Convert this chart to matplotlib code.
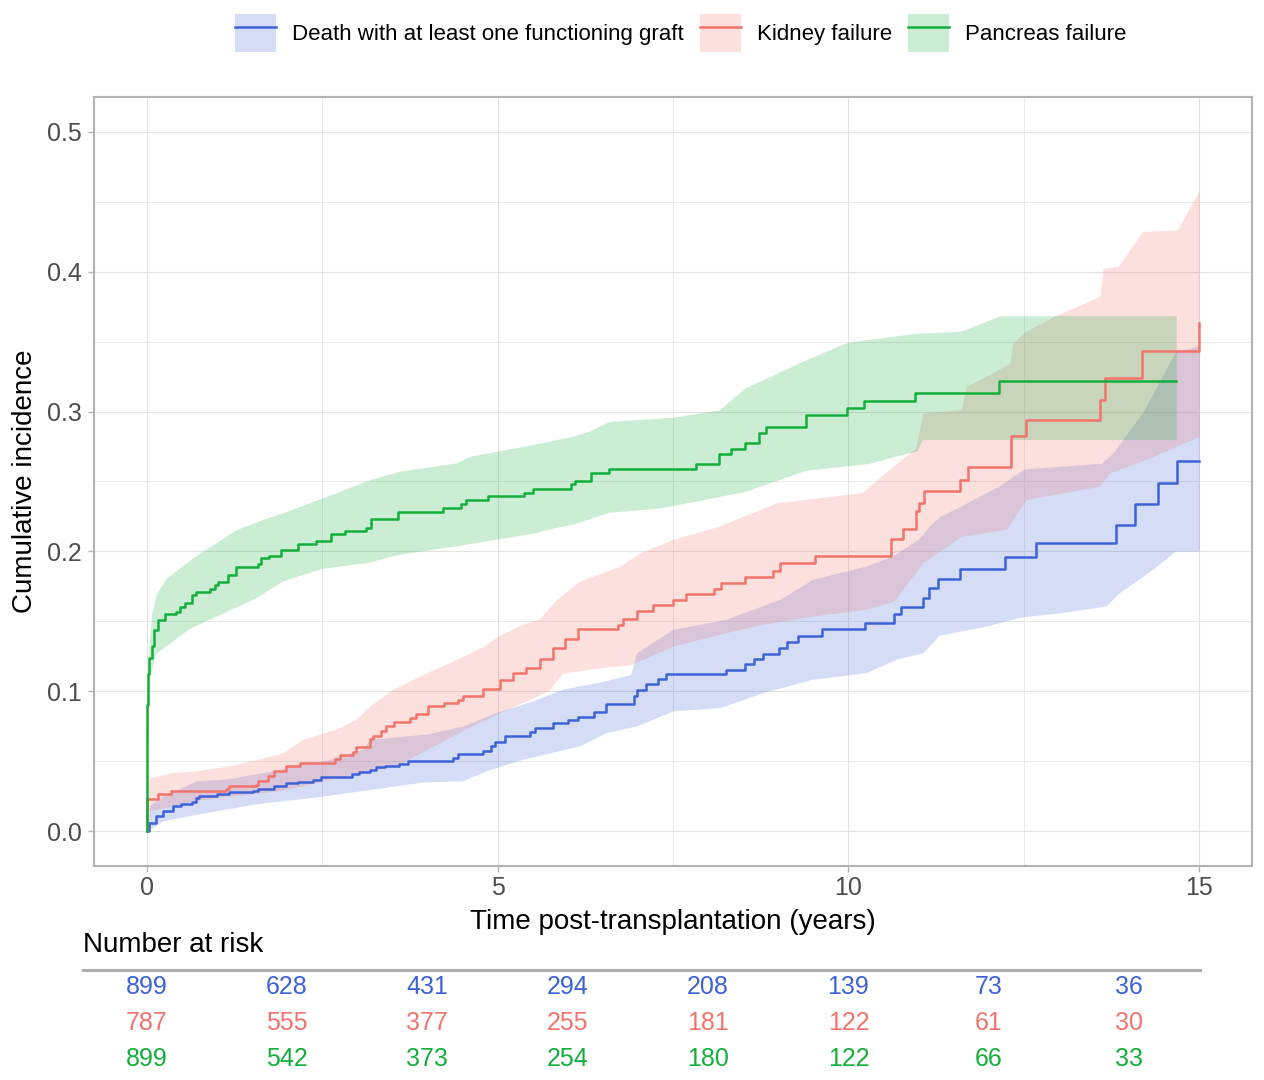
import numpy as np
import matplotlib
matplotlib.use("Agg")
import matplotlib.pyplot as plt
from matplotlib.patches import Patch
from matplotlib.lines import Line2D
from matplotlib.ticker import MultipleLocator

plt.rcParams['font.family'] = ['Liberation Sans', 'DejaVu Sans']

# ---- data ----
series_names = ["Death with at least one functioning graft", "Kidney failure", "Pancreas failure"]

# death with a functioning graft
death_t = [0, 0.04, 0.14, 0.23, 0.38, 0.49, 0.64, 0.71, 0.75, 1.0,
           1.18, 1.51, 1.59, 1.82, 1.99, 2.16, 2.37, 2.49, 2.92, 3.03,
           3.18, 3.27, 3.39, 3.60, 3.72, 4.36, 4.43, 4.79, 4.91, 4.96,
           5.10, 5.46, 5.53, 5.79, 6.00, 6.14, 6.38, 6.55, 6.94, 6.98,
           7.12, 7.28, 7.40, 8.25, 8.52, 8.66, 8.78, 9.01, 9.13, 9.28,
           9.62, 10.24, 10.65, 10.75, 11.06, 11.15, 11.28, 11.59, 12.23, 12.67,
           13.81, 14.08, 14.41, 14.68, 15.0]
death_ci = [0, 0.006, 0.0105, 0.0145, 0.0181, 0.0193, 0.0205, 0.0233, 0.0252, 0.0264,
            0.0276, 0.0288, 0.030, 0.0324, 0.0343, 0.0348, 0.0367, 0.0383, 0.0407, 0.0419,
            0.0436, 0.0455, 0.0467, 0.0479, 0.0502, 0.0526, 0.055, 0.0574, 0.061, 0.0638,
            0.0681, 0.0705, 0.0736, 0.077, 0.0793, 0.0817, 0.0848, 0.0907, 0.0967, 0.101,
            0.1055, 0.109, 0.1121, 0.1152, 0.1193, 0.1229, 0.1269, 0.1312, 0.1352, 0.1395,
            0.1443, 0.149, 0.1555, 0.1605, 0.1664, 0.1735, 0.180, 0.1871, 0.1962, 0.2057,
            0.2186, 0.2336, 0.2486, 0.2645, 0.2645]
death_up_t = [0, 0.04, 0.23, 0.71, 1.13, 1.80, 2.61, 3.08, 3.18, 3.98,
              4.5, 4.98, 5.5, 5.93, 6.5, 6.9, 6.98, 7.5, 8.25, 9.02, 9.49,
              10.25, 10.63, 11.0, 11.15, 11.3, 11.6, 12.15, 12.5, 13.6, 13.76,
              14.2, 14.66, 15.0]
death_up = [0.003, 0.018, 0.025, 0.036, 0.0371, 0.0431, 0.0514, 0.0586, 0.0657, 0.0693,
            0.075, 0.0848, 0.093, 0.1015, 0.107, 0.112, 0.1276, 0.1443, 0.1514, 0.1657, 0.18,
            0.1895, 0.1967, 0.209, 0.218, 0.225, 0.2324, 0.247, 0.259, 0.263, 0.27,
            0.30, 0.343, 0.347]
death_lo_t = [0, 0.04, 0.23, 0.71, 1.56, 2.51, 3.22, 3.93, 4.5, 4.89,
              5.36, 6.17, 6.55, 6.98, 7.5, 8.17, 8.78, 9.49, 10.25, 10.68,
              11.06, 11.29, 12.0, 12.44, 13.0, 13.67, 13.86, 14.33, 14.66, 15.0]
death_lo = [0, 0.001, 0.0074, 0.012, 0.0195, 0.025, 0.030, 0.035, 0.036, 0.044,
            0.0514, 0.061, 0.0705, 0.0752, 0.086, 0.0883, 0.099, 0.1086, 0.1133, 0.1229,
            0.1276, 0.14, 0.147, 0.153, 0.156, 0.161, 0.1705, 0.1871, 0.2002, 0.2002]

# kidney failure
kidney_t = [0, 0.01, 0.16, 0.35, 1.13, 1.18, 1.56, 1.59, 1.73, 1.82,
            1.99, 2.18, 2.68, 2.75, 2.94, 2.99, 3.18, 3.22, 3.34, 3.41,
            3.53, 3.75, 3.84, 4.01, 4.24, 4.43, 4.51, 4.79, 5.03, 5.22,
            5.41, 5.60, 5.79, 5.96, 6.14, 6.71, 6.79, 6.98, 7.21, 7.50,
            7.69, 8.09, 8.18, 8.52, 8.92, 9.03, 9.53, 10.61, 10.78, 10.96,
            11.0, 11.08, 11.59, 11.70, 12.31, 12.53, 13.58, 13.66, 14.18, 14.99,
            15.0]
kidney_ci = [0, 0.0229, 0.0264, 0.0288, 0.030, 0.0324, 0.033, 0.036, 0.0395, 0.043,
             0.0467, 0.049, 0.0514, 0.0543, 0.0562, 0.0598, 0.0657, 0.068, 0.0717, 0.0748,
             0.0781, 0.0812, 0.0836, 0.0895, 0.0914, 0.0936, 0.0967, 0.1014, 0.1079, 0.1133,
             0.1169, 0.1229, 0.1312, 0.1376, 0.1443, 0.1471, 0.1514, 0.1574, 0.1614, 0.1652,
             0.1693, 0.1733, 0.1776, 0.1819, 0.186, 0.1914, 0.1967, 0.209, 0.2157, 0.2288,
             0.2348, 0.2431, 0.2514, 0.2605, 0.2824, 0.2938, 0.3086, 0.3240, 0.3431, 0.3633,
             0.3633]
kidney_up_t = [0, 0.04, 0.38, 0.71, 1.18, 1.56, 1.94, 2.23, 2.70, 2.99,
               3.18, 3.51, 3.98, 4.51, 4.79, 5.03, 5.36, 5.60, 5.84, 6.17,
               6.74, 7.03, 7.5, 8.15, 8.98, 10.19, 10.64, 10.96, 11.06, 11.61,
               11.68, 11.87, 12.3, 12.34, 12.49, 12.92, 13.58, 13.63, 13.84, 14.19,
               14.69, 14.98, 15.0]
kidney_up = [0.032, 0.038, 0.042, 0.0431, 0.0467, 0.051, 0.056, 0.0657, 0.0729, 0.08,
             0.0895, 0.1014, 0.113, 0.125, 0.132, 0.14, 0.148, 0.152, 0.1657, 0.1788,
             0.1895, 0.199, 0.2086, 0.218, 0.2348, 0.242, 0.261, 0.274, 0.299, 0.3014,
             0.318, 0.323, 0.3345, 0.349, 0.3562, 0.368, 0.3824, 0.4026, 0.4038, 0.4288,
             0.43, 0.457, 0.457]
kidney_lo_t = [0, 0.38, 0.71, 1.18, 1.9, 2.23, 2.61, 3.08, 3.56, 3.98,
               4.51, 4.98, 5.5, 5.74, 5.93, 6.5, 6.9, 7.5, 8.25, 8.78,
               9.49, 10.25, 10.65, 11.06, 11.61, 12.25, 12.53, 13.58, 13.72, 14.24,
               15.0]
kidney_lo = [0.014, 0.018, 0.022, 0.025, 0.0288, 0.0324, 0.0371, 0.0419, 0.0467, 0.058,
             0.072, 0.0836, 0.095, 0.101, 0.113, 0.117, 0.119, 0.1324, 0.1419, 0.1479,
             0.1538, 0.1586, 0.1645, 0.1919, 0.2109, 0.2157, 0.2371, 0.2467, 0.2562, 0.2657,
             0.2824]

# pancreas failure
pancreas_t = [0, 0.003, 0.006, 0.01, 0.02, 0.04, 0.07, 0.11, 0.16, 0.26,
              0.42, 0.47, 0.54, 0.64, 0.71, 0.90, 0.97, 1.02, 1.16, 1.28,
              1.59, 1.63, 1.75, 1.92, 2.16, 2.42, 2.63, 2.82, 3.13, 3.20,
              3.58, 4.22, 4.48, 4.55, 4.86, 5.38, 5.50, 6.05, 6.10, 6.33,
              6.59, 7.83, 8.15, 8.33, 8.53, 8.72, 8.83, 9.39, 9.98, 10.22,
              10.95, 12.15, 14.67]
pancreas_ci = [0, 0.03, 0.06, 0.09, 0.112, 0.124, 0.132, 0.144, 0.151, 0.1555,
               0.157, 0.160, 0.163, 0.169, 0.171, 0.173, 0.176, 0.178, 0.183, 0.189,
               0.191, 0.195, 0.197, 0.201, 0.205, 0.2074, 0.2126, 0.2145, 0.2169, 0.2229,
               0.2283, 0.2307, 0.2336, 0.2371, 0.2395, 0.2419, 0.2443, 0.2485, 0.2502, 0.256,
               0.2586, 0.2626, 0.270, 0.2736, 0.2776, 0.2848, 0.2888, 0.2974, 0.3026, 0.3074,
               0.3133, 0.3217, 0.3217]
pancreas_up_t = [0, 0.01, 0.03, 0.07, 0.14, 0.28, 0.66, 1.28, 1.66, 1.94,
                 2.70, 3.18, 3.60, 4.41, 4.60, 5.50, 6.07, 6.31, 6.59, 7.51,
                 8.15, 8.53, 9.39, 9.98, 10.95, 11.6, 12.16, 14.67]
pancreas_up = [0, 0.08, 0.13, 0.155, 0.170, 0.181, 0.1955, 0.2157, 0.223, 0.2276,
               0.242, 0.2514, 0.2574, 0.2633, 0.268, 0.2764, 0.2824, 0.286, 0.293, 0.296,
               0.301, 0.317, 0.337, 0.3495, 0.356, 0.3574, 0.3686, 0.3686]
pancreas_lo_t = [0, 0.005, 0.02, 0.04, 0.13, 0.37, 0.61, 0.87, 1.18, 1.56,
                 1.94, 2.51, 3.13, 3.60, 4.41, 5.50, 5.73, 6.1, 6.59, 7.3,
                 7.83, 8.53, 9.39, 10.3, 10.66, 10.98, 11.05, 14.67]
pancreas_lo = [0, 0.03, 0.08, 0.11, 0.127, 0.136, 0.145, 0.151, 0.158, 0.167,
               0.179, 0.188, 0.192, 0.198, 0.204, 0.213, 0.216, 0.22, 0.228, 0.231,
               0.236, 0.243, 0.258, 0.263, 0.268, 0.272, 0.28, 0.28]

# number at risk table
risk_times = [0, 2, 4, 6, 8, 10, 12, 14]
risk_death = [899, 628, 431, 294, 208, 139, 73, 36]
risk_kidney = [787, 555, 377, 255, 181, 122, 61, 30]
risk_pancreas = [899, 542, 373, 254, 180, 122, 66, 33]

colors = ["#3D62D6", "#F2736B", "#14AE3C"]

# ---- figure layout (pixels of a 1264x1080 canvas) ----
W, H = 1264, 1080
fig = plt.figure(figsize=(W / 100, H / 100), dpi=100)
ax = fig.add_axes([94 / W, 1 - 866 / H, (1252 - 94) / W, (866 - 97) / H])

curves = [
    (death_t, death_ci, death_up_t, death_up, death_lo_t, death_lo),
    (kidney_t, kidney_ci, kidney_up_t, kidney_up, kidney_lo_t, kidney_lo),
    (pancreas_t, pancreas_ci, pancreas_up_t, pancreas_up, pancreas_lo_t, pancreas_lo),
]

# confidence ribbons: put upper and lower bounds on a shared time grid
for (t, ci, ut, up, lt, lo), c in zip(curves, colors):
    grid = np.union1d(ut, lt)
    upper = np.interp(grid, ut, up)
    lower = np.interp(grid, lt, lo)
    ax.fill_between(grid, lower, upper, color=c, alpha=0.22, lw=0, zorder=2)

for (t, ci, ut, up, lt, lo), c in zip(curves, colors):
    ax.step(t, ci, where='post', color=c, lw=1.8, zorder=3)

ax.set_xlim(-0.75, 15.75)
ax.set_ylim(-0.025, 0.525)
ax.xaxis.set_major_locator(MultipleLocator(5))
ax.xaxis.set_minor_locator(MultipleLocator(2.5))
ax.yaxis.set_major_locator(MultipleLocator(0.1))
ax.yaxis.set_minor_locator(MultipleLocator(0.05))
ax.yaxis.set_major_formatter(plt.FuncFormatter(lambda v, p: f"{v:.1f}"))
ax.grid(which='major', color='#E2E2E2', lw=0.8, zorder=0)
ax.grid(which='minor', color='#E9E9E9', lw=0.7, zorder=0)
ax.set_axisbelow(True)
for s in ax.spines.values():
    s.set_color('#B3B3B3')
    s.set_linewidth(1.5)
ax.tick_params(which='major', length=4, color='#B3B3B3', width=1.0,
               labelsize=18, labelcolor='#4D4D4D')
ax.tick_params(axis='x', pad=3)
ax.tick_params(axis='y', pad=5)
ax.tick_params(which='minor', length=0)

ax.set_xlabel("Time post-transplantation (years)", fontsize=20, color='black')
ax.xaxis.label.set_va('center')
ax.xaxis.set_label_coords(0.5, (866 - 922) / 769)
ax.set_ylabel("Cumulative incidence", fontsize=20, color='black')
ax.yaxis.label.set_va('center')
ax.yaxis.set_label_coords((25 - 94) / 1158, 0.5)

# legend on top
handles = [(Patch(facecolor=c, alpha=0.22, edgecolor='none'), Line2D([], [], color=c, lw=1.8))
           for c in colors]
fig.legend(handles, series_names, loc='center', bbox_to_anchor=(681 / W, 1 - 33 / H),
           ncol=3, frameon=False, fontsize=16, handlelength=1.85, handleheight=2.25,
           handletextpad=0.72, columnspacing=0.72)

# number at risk table, sharing the x scale of the panel
tab = fig.add_axes([94 / W, 3 / H, (1252 - 94) / W, 108 / H])
tab.set_xlim(ax.get_xlim())
tab.set_ylim(0, 3)
tab.axis('off')
for row, (vals, c) in enumerate(zip([risk_death, risk_kidney, risk_pancreas], colors)):
    for tt, v in zip(risk_times, vals):
        tab.text(tt, 2.5 - row, str(v), ha='center', va='center', fontsize=18, color=c)
tab.plot([(83 - 94) / 1158, (1200 - 94) / 1158], [0.99, 0.99], transform=tab.transAxes,
         color='#B0B0B0', lw=2.2, clip_on=False)
tab.text((83 - 94) / 1158, 1 + 24 / 108, "Number at risk", transform=tab.transAxes,
         ha='left', va='center', fontsize=20, color='black')

fig.savefig('out.png', dpi=100)
